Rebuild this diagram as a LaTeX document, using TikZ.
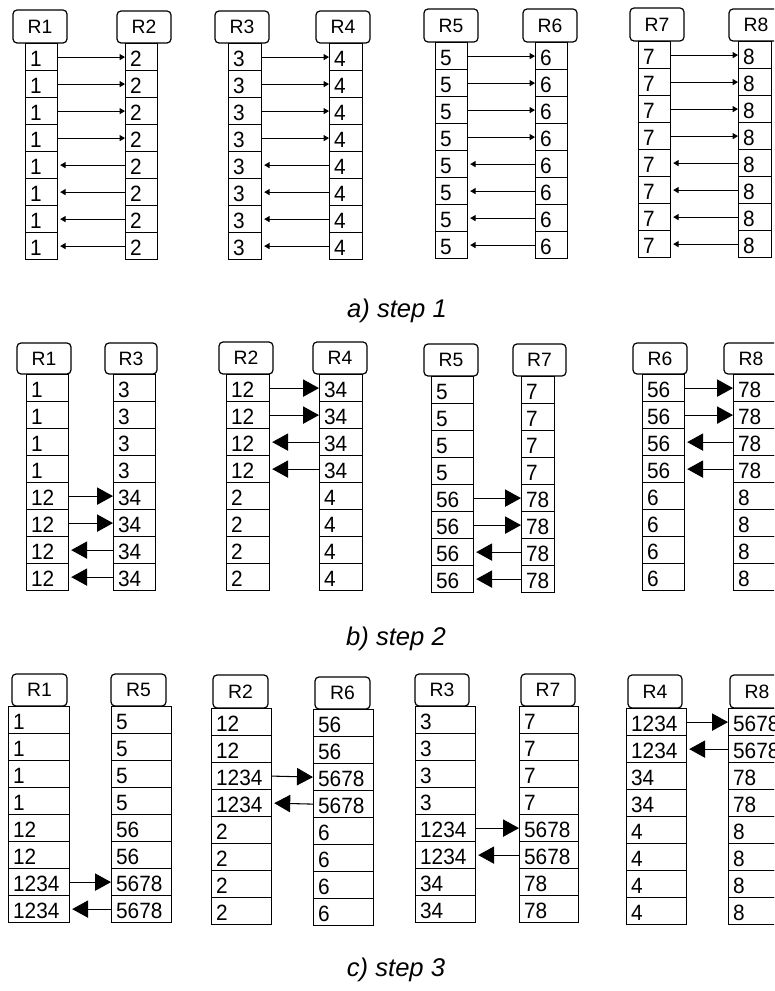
\documentclass[tikz,border=0pt]{standalone}
\usepackage{fontspec}
\setmainfont{Liberation Sans}
\newfontfamily\cellfont[FakeStretch=0.94]{Liberation Sans}
\usetikzlibrary{arrows.meta}
\tikzset{
  hdr/.style={draw, rounded corners=3pt, inner sep=0pt, line width=0.9pt,
    font=\fontsize{14.5}{15}\selectfont},
  cell/.style={draw, anchor=north west, inner xsep=3.4pt, inner ysep=0pt, align=left,
    minimum height=20.25pt, text height=13.5pt, text depth=0pt, line width=0.9pt,
    font=\cellfont\fontsize{16.6}{17}\selectfont},
  sarr/.style={-{Triangle[length=4pt,width=4.5pt]}, line width=0.7pt},
  barr/.style={-{Triangle[length=12pt,width=13pt]}, line width=0.8pt},
  captxt/.style={font=\fontsize{19.2}{20}\itshape\selectfont}
}
% name, header text, header left, header right, header top, header bottom, cell left, cell right, values
\newcommand\regcol[9]{%
  \pgfmathsetmacro\myhw{(#4-#3)*0.75}%
  \pgfmathsetmacro\myhh{(#6-#5)*0.75}%
  \pgfmathsetmacro\mycw{(#8-#7)*0.75}%
  \pgfmathsetmacro\mytw{(#8-#7)*0.75-6.8}%
  \node[hdr, minimum width=\myhw pt, minimum height=\myhh pt] (#1-h) at ({(#3+#4)/2},{(#5+#6)/2}) {#2};
  \foreach \v [count=\i] in {#9} {%
    \node[cell, minimum width=\mycw pt, text width=\mytw pt] (#1-\i) at (#7,{#6+(\i-1)*27}) {\v};
  }%
}
% style, group prefix, rows to the right, rows to the left
\newcommand\xfer[4]{%
  \foreach \i in {#3} {\draw[#1] (#2l-\i.east) -- (#2r-\i.west);}%
  \foreach \i in {#4} {\draw[#1, shorten >=1.5pt] (#2r-\i.west) -- (#2l-\i.east);}%
}
\begin{document}
\begin{tikzpicture}[x=0.75pt, y=-0.75pt]
\useasboundingbox (0,0) rectangle (774,991);
\clip (0,0) rectangle (774,991);
% ---------- step 1
\regcol{a1l}{R1}{13}{67}{10}{43}{25}{57}{1,1,1,1,1,1,1,1}
\regcol{a1r}{R2}{117}{171}{11}{43}{125}{157}{2,2,2,2,2,2,2,2}
\regcol{a2l}{R3}{215}{269}{11}{43}{228}{261}{3,3,3,3,3,3,3,3}
\regcol{a2r}{R4}{316}{370}{11}{43}{329}{362}{4,4,4,4,4,4,4,4}
\regcol{a3l}{R5}{424}{478}{9}{42}{435}{467}{5,5,5,5,5,5,5,5}
\regcol{a3r}{R6}{523}{577}{9}{42}{535}{567}{6,6,6,6,6,6,6,6}
\regcol{a4l}{R7}{630}{684}{8}{41}{638}{670}{7,7,7,7,7,7,7,7}
\regcol{a4r}{R8}{729}{783}{9}{41}{738}{771}{8,8,8,8,8,8,8,8}
\xfer{sarr}{a1}{1,2,3,4}{5,6,7,8}
\xfer{sarr}{a2}{1,2,3,4}{5,6,7,8}
\xfer{sarr}{a3}{1,2,3,4}{5,6,7,8}
\xfer{sarr}{a4}{1,2,3,4}{5,6,7,8}
\node[captxt] (capa) at (397,311) {a) step 1};
% ---------- step 2
\regcol{b1l}{R1}{17}{71}{343}{374}{26}{68}{1,1,1,1,12,12,12,12}
\regcol{b1r}{R3}{105}{157}{343}{374}{113}{155}{3,3,3,3,34,34,34,34}
\regcol{b2l}{R2}{219}{273}{342}{374}{226}{269}{12,12,12,12,2,2,2,2}
\regcol{b2r}{R4}{313}{367}{342}{374}{319}{362}{34,34,34,34,4,4,4,4}
\regcol{b3l}{R5}{424}{478}{344}{376}{431}{473}{5,5,5,5,56,56,56,56}
\regcol{b3r}{R7}{513}{566}{344}{376}{521}{554}{7,7,7,7,78,78,78,78}
\regcol{b4l}{R6}{633}{687}{343}{374}{642}{684}{56,56,56,56,6,6,6,6}
\regcol{b4r}{R8}{724}{778}{343}{374}{733}{775}{78,78,78,78,8,8,8,8}
\xfer{barr}{b1}{5,6}{7,8}
\xfer{barr}{b2}{1,2}{3,4}
\xfer{barr}{b3}{5,6}{7,8}
\xfer{barr}{b4}{1,2}{3,4}
\node[captxt] (capb) at (396,639) {b) step 2};
% ---------- step 3
\regcol{c1l}{R1}{12}{67}{674}{706}{8}{69}{1,1,1,1,12,12,1234,1234}
\regcol{c1r}{R5}{111}{166}{674}{706}{111}{171}{5,5,5,5,56,56,5678,5678}
\regcol{c2l}{R2}{213}{268}{675}{708}{211}{271}{12,12,1234,1234,2,2,2,2}
\regcol{c2r}{R6}{315}{370}{677}{709}{313}{373}{56,56,5678,5678,6,6,6,6}
\regcol{c3l}{R3}{415}{469}{674}{706}{415}{475}{3,3,3,3,1234,1234,34,34}
\regcol{c3r}{R7}{521}{575}{674}{706}{519}{578}{7,7,7,7,5678,5678,78,78}
\regcol{c4l}{R4}{628}{682}{675}{708}{626}{686}{1234,1234,34,34,4,4,4,4}
\regcol{c4r}{R8}{730}{784}{675}{708}{728}{788}{5678,5678,78,78,8,8,8,8}
\xfer{barr}{c1}{7}{8}
\xfer{barr}{c2}{3}{4}
\xfer{barr}{c3}{5}{6}
\xfer{barr}{c4}{1}{2}
\node[captxt] (capc) at (396,970) {c) step 3};
\end{tikzpicture}
\end{document}
